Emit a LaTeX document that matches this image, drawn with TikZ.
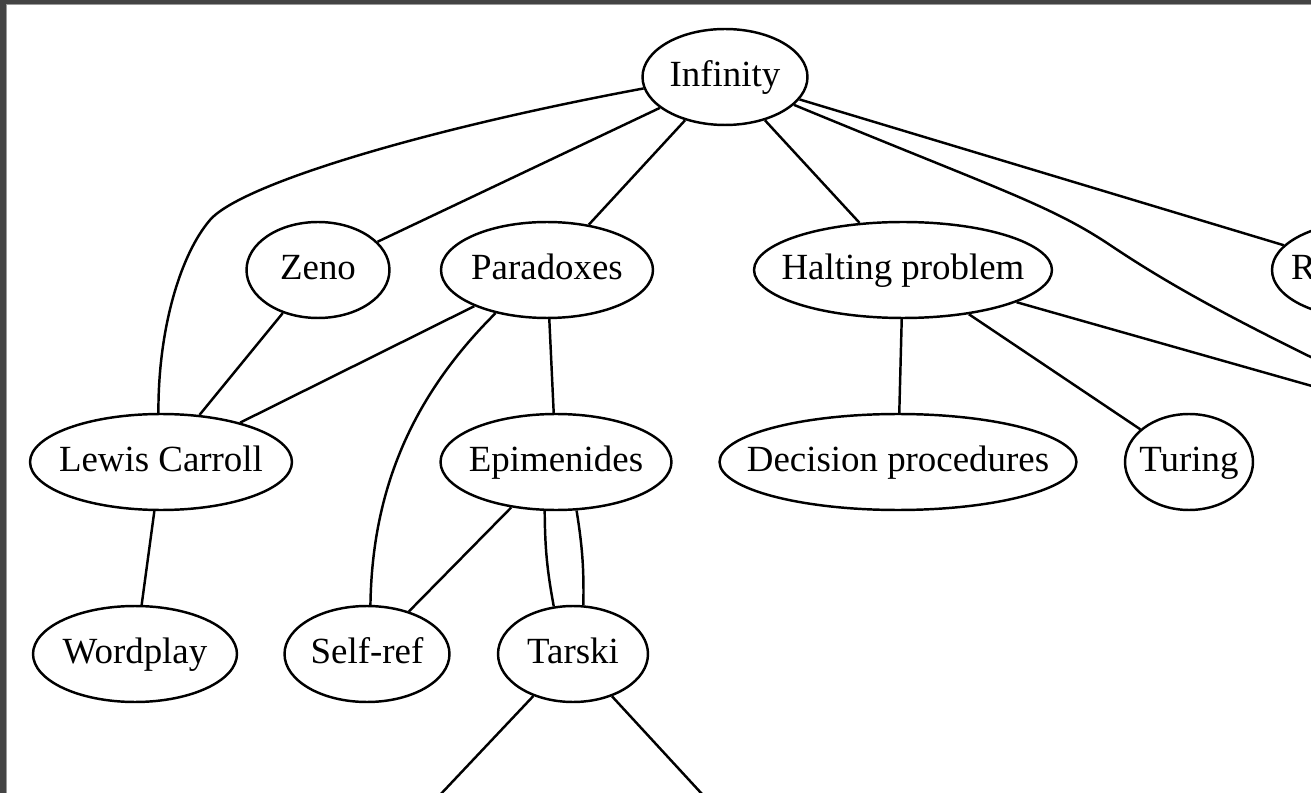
\documentclass[tikz,border=0pt]{standalone}
\usepackage{fontspec}
\setmainfont{Liberation Serif}
\usepackage{tikz}
\usetikzlibrary{shapes.geometric}
\definecolor{framegray}{HTML}{444444}
\definecolor{rimgray}{HTML}{9A9A9A}
\newcommand{\lbl}[1]{\makebox[0pt]{#1}}

\begin{document}
\begin{tikzpicture}[x=0.02cm, y=-0.02cm,
    topic/.style={draw, ellipse, line width=1.4pt, inner sep=0pt,
        minimum height=1.92cm, text height=14pt, text depth=3.2pt,
        font=\fontsize{21}{25}\selectfont},
    link/.style={line width=1.4pt}]
    \useasboundingbox (0,0) rectangle (1311,793);

    % window frame
    \fill[framegray] (0,0) rectangle (1311,793);
    \fill[rimgray] (5.5,4.5) rectangle (1311,793);
    \fill[white] (6.5,5.5) rectangle (1311,793);
    \clip (6.5,5.5) rectangle (1311,793);

    % topics
    \node[topic, minimum width=3.30cm] (inf) at (725,77) {\lbl{Infinity}};
    \node[topic, minimum width=2.86cm] (zeno) at (318,270) {\lbl{Zeno}};
    \node[topic, minimum width=4.24cm] (parad) at (547,270) {\lbl{Paradoxes}};
    \node[topic, minimum width=5.96cm] (halt) at (903,270) {\lbl{Halting problem}};
    \node[topic, minimum width=3.76cm] (recur) at (1366,270) {\lbl{Recursion}};
    \node[topic, minimum width=5.24cm] (lewis) at (161,462) {\lbl{Lewis Carroll}};
    \node[topic, minimum width=4.62cm] (epim) at (556,462) {\lbl{Epimenides}};
    \node[topic, minimum width=7.14cm] (decis) at (898,462) {\lbl{Decision procedures}};
    \node[topic, minimum width=2.56cm] (turing) at (1189,462) {\lbl{Turing}};
    \node[topic, minimum width=4.08cm] (wordp) at (135,654) {\lbl{Wordplay}};
    \node[topic, minimum width=3.30cm] (selfref) at (367,654) {\lbl{Self-ref}};
    \node[topic, minimum width=3.00cm] (tarski) at (573,654) {\lbl{Tarski}};

    % ends running off the page
    \coordinate (hidden) at (1460,428);
    \coordinate (tarL) at (405,832);
    \coordinate (tarR) at (737,832);

    % links from Infinity
    \draw[link] (inf.188) .. controls (420,130) and (240,185) .. (210,220)
        .. controls (180,255) and (158,330) .. (lewis.93);
    \draw[link] (inf) -- (zeno);
    \draw[link] (inf) -- (parad);
    \draw[link] (inf) -- (halt);
    \draw[link] (inf) -- (recur);
    \draw[link] (inf.-22) .. controls (1000,190) and (1050,205) .. (1110,245)
        .. controls (1180,292) and (1260,335) .. (hidden);

    % second row
    \draw[link] (zeno) -- (lewis);
    \draw[link] (parad) -- (lewis);
    \draw[link] (parad.-140) .. controls (405,403) and (372,500) .. (selfref.86);
    \draw[link] (parad) -- (epim);
    \draw[link] (halt) -- (decis);
    \draw[link] (halt) -- (turing);
    \draw[link] (halt) -- (hidden);

    % third row
    \draw[link] (lewis) -- (wordp);
    \draw[link] (epim) -- (selfref);
    \draw[link] (epim.-103) to[bend right=5] (tarski.112);
    \draw[link] (epim.-67) to[bend left=5] (tarski.78);

    % below Tarski
    \draw[link] (tarski) -- (tarL);
    \draw[link] (tarski) -- (tarR);
\end{tikzpicture}
\end{document}
